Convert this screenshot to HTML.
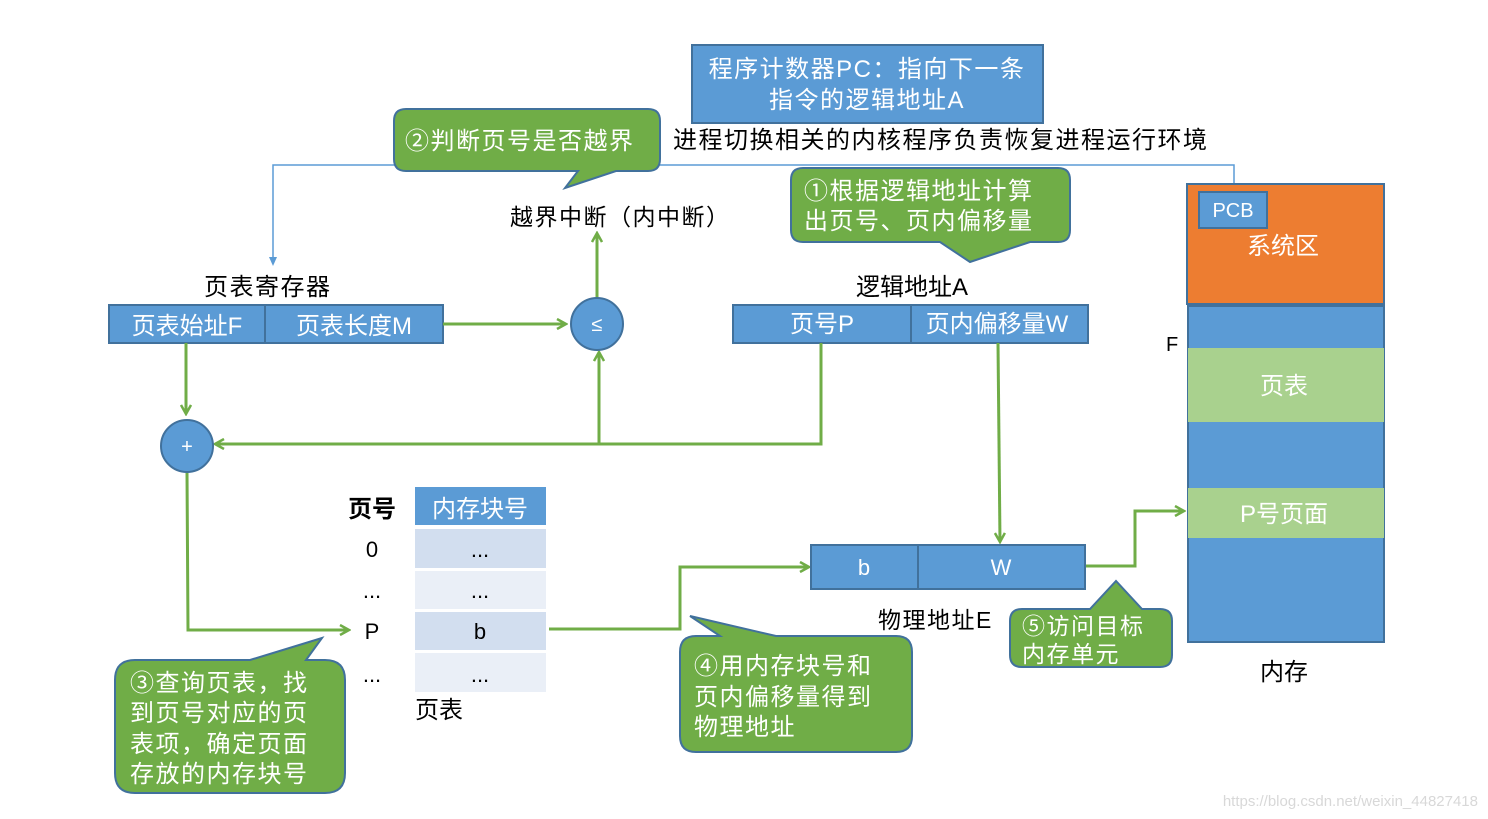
<!DOCTYPE html>
<html><head><meta charset="utf-8"><style>
body{margin:0;background:#fff}
svg{display:block}
text{font-family:"Liberation Sans","Noto Sans CJK SC",sans-serif}
.w{letter-spacing:1.5px}
</style></head><body>
<svg width="1488" height="819" viewBox="0 0 1488 819" xmlns="http://www.w3.org/2000/svg">
<defs>
<marker id="ag" markerWidth="12" markerHeight="12" refX="10" refY="6" orient="auto" markerUnits="userSpaceOnUse"><path d="M1,1 L10,6 L1,11" fill="none" stroke="#70ad47" stroke-width="2.5"/></marker>
<marker id="ab" markerWidth="10" markerHeight="10" refX="5" refY="8" orient="auto-start-reverse" markerUnits="userSpaceOnUse"><path d="M2,0 L5,8 L8,0Z" fill="#5b9bd5"/></marker>
</defs>
<!-- PC box -->
<rect x="692" y="45" width="351" height="78" fill="#5b9bd5" stroke="#41719c" stroke-width="2"/>
<text class="w" x="867" y="77" font-size="24" fill="#fff" text-anchor="middle">程序计数器PC：指向下一条</text>
<text class="w" x="867" y="108" font-size="24" fill="#fff" text-anchor="middle">指令的逻辑地址A</text>
<text class="w" x="673" y="148" font-size="24" fill="#000">进程切换相关的内核程序负责恢复进程运行环境</text>
<!-- blue line -->
<path d="M1234,192 V165 H273 V262" fill="none" stroke="#5b9bd5" stroke-width="1.5"/>
<path d="M269,257 L273,266 L277,257Z" fill="#5b9bd5"/>
<!-- callout 2 -->
<path d="M406,109 H648 Q660,109 660,121 V159 Q660,171 648,171 H616 L565,188 L578,171 H406 Q394,171 394,159 V121 Q394,109 406,109Z" fill="#70ad47" stroke="#41719c" stroke-width="2"/>
<text class="w" x="405" y="149" font-size="24" fill="#fff">②判断页号是否越界</text>
<text class="w" x="510" y="225" font-size="23" fill="#000">越界中断（内中断）</text>
<!-- callout 1 -->
<path d="M803,168 H1058 Q1070,168 1070,180 V230 Q1070,242 1058,242 H1030 L970,262 L940,242 H803 Q791,242 791,230 V180 Q791,168 803,168Z" fill="#70ad47" stroke="#41719c" stroke-width="2"/>
<text class="w" x="804" y="199" font-size="24" fill="#fff">①根据逻辑地址计算</text>
<text class="w" x="804" y="229" font-size="24" fill="#fff">出页号、页内偏移量</text>
<!-- page table register -->
<text class="w" x="204" y="295" font-size="24" fill="#000">页表寄存器</text>
<rect x="109" y="305" width="156" height="38" fill="#5b9bd5" stroke="#41719c" stroke-width="2"/>
<rect x="265" y="305" width="178" height="38" fill="#5b9bd5" stroke="#41719c" stroke-width="2"/>
<text x="187" y="334" font-size="24" fill="#fff" text-anchor="middle">页表始址F</text>
<text x="354" y="334" font-size="24" fill="#fff" text-anchor="middle">页表长度M</text>
<!-- logical address -->
<text x="856" y="295" font-size="24" fill="#000">逻辑地址A</text>
<rect x="733" y="305" width="178" height="38" fill="#5b9bd5" stroke="#41719c" stroke-width="2"/>
<rect x="911" y="305" width="177" height="38" fill="#5b9bd5" stroke="#41719c" stroke-width="2"/>
<text x="822" y="332" font-size="24" fill="#fff" text-anchor="middle">页号P</text>
<text x="997" y="332" font-size="24" fill="#fff" text-anchor="middle">页内偏移量W</text>
<!-- green connectors -->
<g fill="none" stroke="#70ad47" stroke-width="3">
<path d="M443,324 H566" marker-end="url(#ag)"/>
<path d="M597,298 V233" marker-end="url(#ag)"/>
<path d="M821,343 V444 H215" marker-end="url(#ag)"/>
<path d="M599,444 V352" marker-end="url(#ag)"/>
<path d="M186,343 V414" marker-end="url(#ag)"/>
<path d="M187,472 L188,630 H349" marker-end="url(#ag)"/>
<path d="M998,343 L1000,542" marker-end="url(#ag)"/>
<path d="M549,629 H680 V567 H809" marker-end="url(#ag)"/>
<path d="M1085,566 H1135 V511 H1184" marker-end="url(#ag)"/>
</g>
<circle cx="597" cy="324" r="26" fill="#5b9bd5" stroke="#41719c" stroke-width="2"/>
<text x="597" y="331" font-size="20" fill="#fff" text-anchor="middle">≤</text>
<circle cx="187" cy="446" r="26" fill="#5b9bd5" stroke="#41719c" stroke-width="2"/>
<text x="187" y="453" font-size="20" fill="#fff" text-anchor="middle">+</text>
<!-- page table -->
<text x="348" y="517" font-size="24" font-weight="bold" fill="#000">页号</text>
<rect x="415" y="487" width="131" height="38" fill="#5b9bd5"/>
<text x="480" y="517" font-size="24" fill="#fff" text-anchor="middle">内存块号</text>
<rect x="415" y="529" width="131" height="39" fill="#d2deef"/>
<rect x="415" y="571" width="131" height="38" fill="#eaeff7"/>
<rect x="415" y="612" width="131" height="38" fill="#d2deef"/>
<rect x="415" y="653" width="131" height="39" fill="#eaeff7"/>
<g font-size="22" fill="#000" text-anchor="middle">
<text x="372" y="557">0</text><text x="480" y="557">...</text>
<text x="372" y="598">...</text><text x="480" y="598">...</text>
<text x="372" y="639">P</text><text x="480" y="639">b</text>
<text x="372" y="682">...</text><text x="480" y="682">...</text>
</g>
<text x="415" y="718" font-size="24" fill="#000">页表</text>
<!-- physical address -->
<rect x="811" y="545" width="107" height="44" fill="#5b9bd5" stroke="#41719c" stroke-width="2"/>
<rect x="918" y="545" width="167" height="44" fill="#5b9bd5" stroke="#41719c" stroke-width="2"/>
<text x="864" y="575" font-size="22" fill="#fff" text-anchor="middle">b</text>
<text x="1001" y="575" font-size="22" fill="#fff" text-anchor="middle">W</text>
<text class="w" x="878" y="628" font-size="23" fill="#000">物理地址E</text>
<!-- callout 5 -->
<path d="M1022,609 H1090 L1116,581 L1142,609 H1160 Q1172,609 1172,621 V655 Q1172,667 1160,667 H1022 Q1010,667 1010,655 V621 Q1010,609 1022,609Z" fill="#70ad47" stroke="#41719c" stroke-width="2"/>
<text class="w" x="1022" y="634" font-size="23" fill="#fff">⑤访问目标</text>
<text class="w" x="1022" y="662" font-size="23" fill="#fff">内存单元</text>
<!-- callout 4 -->
<path d="M696,636 H720 L690,616 L776,636 H896 Q912,636 912,652 V736 Q912,752 896,752 H696 Q680,752 680,736 V652 Q680,636 696,636Z" fill="#70ad47" stroke="#41719c" stroke-width="2"/>
<text class="w" x="694" y="674" font-size="24" fill="#fff">④用内存块号和</text>
<text class="w" x="694" y="705" font-size="24" fill="#fff">页内偏移量得到</text>
<text class="w" x="694" y="735" font-size="24" fill="#fff">物理地址</text>
<!-- callout 3 -->
<path d="M135,660 H250 L322,638 L306,660 H325 Q345,660 345,680 V773 Q345,793 325,793 H135 Q115,793 115,773 V680 Q115,660 135,660Z" fill="#70ad47" stroke="#41719c" stroke-width="2"/>
<text class="w" x="130" y="691" font-size="24" fill="#fff">③查询页表，找</text>
<text class="w" x="130" y="721" font-size="24" fill="#fff">到页号对应的页</text>
<text class="w" x="130" y="752" font-size="24" fill="#fff">表项，确定页面</text>
<text class="w" x="130" y="782" font-size="24" fill="#fff">存放的内存块号</text>
<!-- memory -->
<rect x="1187" y="184" width="197" height="120" fill="#ed7d31" stroke="#41719c" stroke-width="2"/>
<rect x="1199" y="192" width="68" height="36" fill="#5b9bd5" stroke="#41719c" stroke-width="2"/>
<text x="1233" y="217" font-size="20" fill="#fff" text-anchor="middle">PCB</text>
<text x="1283" y="254" font-size="24" fill="#fff" text-anchor="middle">系统区</text>
<rect x="1188" y="306" width="196" height="336" fill="#5b9bd5" stroke="#41719c" stroke-width="2"/>
<rect x="1188" y="348" width="196" height="74" fill="#a9d18e"/>
<text x="1284" y="394" font-size="24" fill="#fff" text-anchor="middle">页表</text>
<rect x="1188" y="488" width="196" height="50" fill="#a9d18e"/>
<text x="1284" y="522" font-size="24" fill="#fff" text-anchor="middle">P号页面</text>
<text x="1166" y="351" font-size="20" fill="#000">F</text>
<text x="1260" y="680" font-size="24" fill="#000">内存</text>
<text x="1478" y="806" font-size="15" fill="#d8d8d8" text-anchor="end">https://blog.csdn.net/weixin_44827418</text>
</svg>
</body></html>
